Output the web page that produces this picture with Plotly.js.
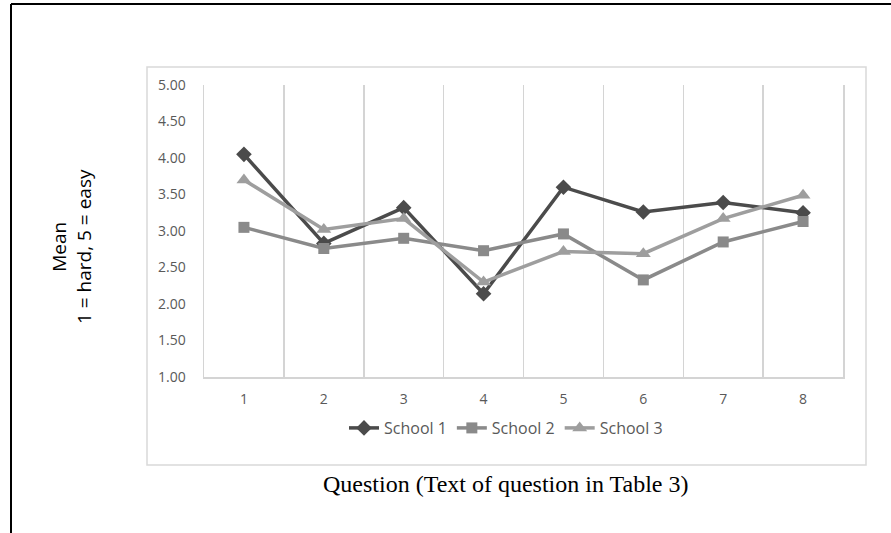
<!DOCTYPE html>
<html>
<head>
<meta charset="utf-8">
<script src="https://cdn.plot.ly/plotly-3.0.1.min.js"></script>
<style>
  html, body { margin: 0; padding: 0; background: #fff; }
  #chart { width: 891px; height: 533px; }
</style>
</head>
<body>
<div id="chart"></div>
<script>
const questions = ["1", "2", "3", "4", "5", "6", "7", "8"];
const school1 = [4.05, 2.83, 3.32, 2.14, 3.60, 3.26, 3.39, 3.25];
const school2 = [3.05, 2.76, 2.90, 2.73, 2.96, 2.33, 2.85, 3.13];
const school3 = [3.70, 3.02, 3.17, 2.30, 2.72, 2.69, 3.17, 3.49];
const seriesNames = ["School 1", "School 2", "School 3"];
const yTickVals = [1, 1.5, 2, 2.5, 3, 3.5, 4, 4.5, 5];
const yTickText = ["1.00", "1.50", "2.00", "2.50", "3.00", "3.50", "4.00", "4.50", "5.00"];
const yTitleLines = ["Mean", "1 = hard, 5 = easy"];
const xTitle = "Question (Text of question in Table 3)";

// plot area in pixels
const L = 204, R = 843, T = 85, B = 377, W = 891, H = 533;
const px = x => (x - L) / (R - L);
const py = y => (B - y) / (B - T);

const traces = [
  {x: questions, y: school1, name: seriesNames[0], type: "scatter", mode: "lines+markers",
   line: {color: "#4b4b4b", width: 3.5}, marker: {symbol: "diamond", size: 12, color: "#4b4b4b"}},
  {x: questions, y: school2, name: seriesNames[1], type: "scatter", mode: "lines+markers",
   line: {color: "#8a8a8a", width: 3.5}, marker: {symbol: "square", size: 11, color: "#8a8a8a"}},
  {x: questions, y: school3, name: seriesNames[2], type: "scatter", mode: "lines+markers",
   line: {color: "#9e9e9e", width: 3.5}, marker: {symbol: "triangle-up", size: 13, color: "#9e9e9e"}}
];

const layout = {
  width: W, height: H,
  margin: {l: L, r: W - R, t: T, b: H - B, pad: 0},
  paper_bgcolor: "rgba(0,0,0,0)", plot_bgcolor: "rgba(0,0,0,0)",
  showlegend: true,
  legend: {orientation: "h", x: px(506), xanchor: "center", y: py(428), yanchor: "middle",
           font: {family: "Open Sans, sans-serif", size: 16, color: "#595959"},
           itemwidth: 30, tracegroupgap: 0},
  xaxis: {type: "category", tickson: "boundaries", showgrid: true, gridcolor: "#d4d4d4", gridwidth: 1.5,
          showline: true, linecolor: "#d4d4d4", linewidth: 1.5, ticks: "", zeroline: false,
          tickfont: {family: "Open Sans, sans-serif", size: 14, color: "#595959"},
          ticklabelstandoff: 9, range: [-0.5, 7.5], fixedrange: true},
  yaxis: {range: [1, 5], tickvals: yTickVals, ticktext: yTickText, showgrid: false, zeroline: false,
          showline: true, mirror: true, linecolor: "#d4d4d4", linewidth: 1.5, ticks: "", ticklabelstandoff: 14,
          tickfont: {family: "Open Sans, sans-serif", size: 14, color: "#595959"}, fixedrange: true},
  shapes: [
    {type: "rect", xref: "paper", yref: "paper", x0: px(147), x1: px(866), y0: py(465), y1: py(67),
     line: {color: "#d9d9d9", width: 1.5}, layer: "below"},
    {type: "line", xref: "paper", yref: "paper", x0: px(11), x1: px(891), y0: py(4), y1: py(4),
     line: {color: "#000", width: 2}},
    {type: "line", xref: "paper", yref: "paper", x0: px(11), x1: px(11), y0: py(4), y1: py(533),
     line: {color: "#000", width: 2}}
  ],
  annotations: [
    {xref: "paper", yref: "paper", x: px(71), y: py(247), text: yTitleLines.join("<br>"),
     textangle: -90, showarrow: false, xanchor: "center", yanchor: "middle",
     font: {family: "Open Sans, sans-serif", size: 19, color: "#000"}},
    {xref: "paper", yref: "paper", x: px(505), y: py(484), text: xTitle, showarrow: false,
     xanchor: "center", yanchor: "middle",
     font: {family: "Liberation Serif, Times New Roman, serif", size: 24, color: "#000"}}
  ]
};

Plotly.newPlot("chart", traces, layout, {displayModeBar: false, staticPlot: true});
</script>
</body>
</html>
